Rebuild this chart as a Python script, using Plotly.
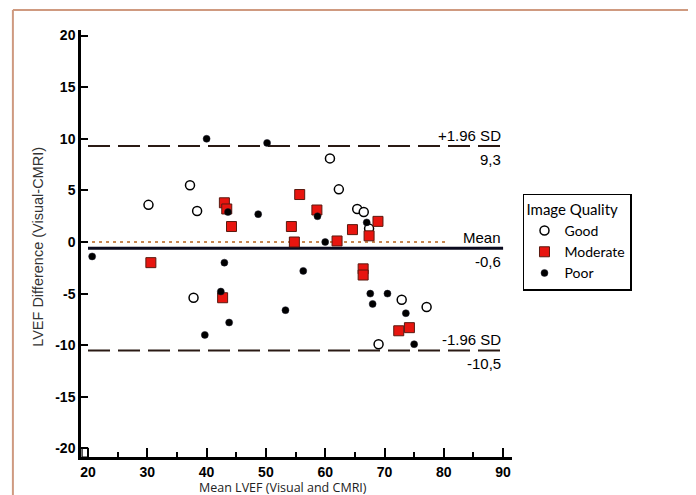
import plotly.graph_objects as go

# ---- data ----
good_x = [30.2, 37.2, 38.4, 37.8, 60.8, 62.3, 65.4, 66.5, 67.4, 72.9, 77.1, 69.0]
good_y = [3.6, 5.5, 3.0, -5.4, 8.1, 5.1, 3.2, 2.9, 1.3, -5.6, -6.3, -9.9]

moderate_x = [43.0, 43.4, 44.2, 30.6, 42.7, 55.7, 58.6, 54.3, 54.8, 62.0, 64.6, 68.9, 67.4, 66.4, 66.4, 72.4, 74.2]
moderate_y = [3.8, 3.2, 1.5, -2.0, -5.4, 4.6, 3.1, 1.5, 0.0, 0.1, 1.2, 2.0, 0.6, -2.6, -3.2, -8.6, -8.3]

poor_x = [20.7, 40.0, 50.2, 43.6, 48.7, 43.0, 42.4, 43.8, 39.7, 58.7, 67.0, 60.0, 56.3, 53.3, 67.6, 70.5, 68.0, 73.6, 75.0]
poor_y = [-1.4, 10.0, 9.6, 2.9, 2.7, -2.0, -4.8, -7.8, -9.0, 2.5, 1.9, 0.0, -2.8, -6.6, -5.0, -5.0, -6.0, -6.9, -9.9]

mean_diff = -0.6
upper_loa = 9.3
lower_loa = -10.5

x_ticks = [20, 30, 40, 50, 60, 70, 80, 90]
y_ticks = [-20, -15, -10, -5, 0, 5, 10, 15, 20]

line_x = [20, 90]
zero_x = [19.5, 80.5]

fig = go.Figure()

# reference lines
fig.add_trace(go.Scatter(x=zero_x, y=[0, 0], mode="lines", showlegend=False, hoverinfo="skip",
                         line=dict(color="#b5601a", width=1.5, dash="3px,4px")))
fig.add_trace(go.Scatter(x=line_x, y=[upper_loa] * 2, mode="lines", showlegend=False, hoverinfo="skip",
                         line=dict(color="#2a1a14", width=2, dash="22px,8px")))
fig.add_trace(go.Scatter(x=line_x, y=[lower_loa] * 2, mode="lines", showlegend=False, hoverinfo="skip",
                         line=dict(color="#2a1a14", width=2, dash="22px,8px")))
fig.add_trace(go.Scatter(x=line_x, y=[mean_diff] * 2, mode="lines", showlegend=False, hoverinfo="skip",
                         line=dict(color="#0a0a1e", width=3)))

# points
fig.add_trace(go.Scatter(x=good_x, y=good_y, mode="markers", name="Good",
                         marker=dict(symbol="circle", size=9, color="white",
                                     line=dict(color="black", width=1.5))))
fig.add_trace(go.Scatter(x=moderate_x, y=moderate_y, mode="markers", name="Moderate",
                         marker=dict(symbol="square", size=10, color="#e8150f",
                                     line=dict(color="#5a1a10", width=1))))
fig.add_trace(go.Scatter(x=poor_x, y=poor_y, mode="markers", name="Poor",
                         marker=dict(symbol="circle", size=7, color="black",
                                     line=dict(color="#1a1a2a", width=0.5))))

ann_font = dict(family="Liberation Sans, Arial", size=15, color="black")
annotations = []
for val, label, num in [(upper_loa, "+1.96 SD", "9,3"), (mean_diff, "Mean", "-0,6"), (lower_loa, "-1.96 SD", "-10,5")]:
    annotations.append(dict(x=89.9, y=val, xref="x", yref="y", text=label, showarrow=False,
                            xanchor="right", yanchor="middle", yshift=11, font=ann_font))
    annotations.append(dict(x=89.9, y=val, xref="x", yref="y", text=num, showarrow=False,
                            xanchor="right", yanchor="middle", yshift=-13, font=ann_font))

# axis titles as annotations
annotations.append(dict(x=-0.1, y=0.492, xref="paper", yref="paper",
                        text="LVEF Difference (Visual-CMRI)", textangle=-90, showarrow=False,
                        xanchor="center", yanchor="middle",
                        font=dict(family="Liberation Sans, Arial", size=14.5, color="#333333")))
annotations.append(dict(x=0.469, y=-0.0703, xref="paper", yref="paper",
                        text="Mean LVEF (Visual and CMRI)", showarrow=False,
                        xanchor="center", yanchor="middle",
                        font=dict(family="Open Sans", size=12.5, color="#222222")))

frame = "#cf9a80"
shapes = [
    dict(type="line", xref="paper", yref="paper", x0=-0.158, x1=1.418, y0=1.0468, y1=1.0468,
         line=dict(color=frame, width=2)),
    dict(type="line", xref="paper", yref="paper", x0=-0.158, x1=-0.158, y0=1.0468, y1=-0.2,
         line=dict(color=frame, width=2)),
    dict(type="line", xref="paper", yref="paper", x0=1.4176, x1=1.4176, y0=1.0468, y1=-0.2,
         line=dict(color=frame, width=2)),
    dict(type="rect", xref="x", yref="y", x0=19.0, x1=20.0, y0=-20.85, y1=-20.0,
         line=dict(color="black", width=1.2)),
]

# page body has an 8px margin, so the figure is offset by 8px in the window
fig.update_layout(
    width=688, height=487,
    margin=dict(l=73, r=184, t=22, b=38),
    paper_bgcolor="white", plot_bgcolor="white",
    annotations=annotations, shapes=shapes,
    legend=dict(
        x=1.0255, y=0.616, xanchor="left", yanchor="top",
        bordercolor="black", borderwidth=1.5, bgcolor="white",
        title=dict(text="Image Quality", font=dict(family="Lato", size=15, color="black")),
        font=dict(family="Lato", size=14, color="black"),
        itemwidth=30, tracegroupgap=0,
    ),
)

fig.update_xaxes(
    range=[18.82, 91.5], tickvals=x_ticks, ticktext=[str(v) for v in x_ticks],
    showgrid=False, zeroline=False, showline=True, linecolor="black", linewidth=2.5,
    ticks="inside", ticklen=9, tickwidth=1.5, tickcolor="black",
    minor=dict(tickvals=[25, 35, 45, 55, 65, 75, 85], ticks="inside", ticklen=5, tickwidth=1.5, tickcolor="black"),
    tickfont=dict(family="Liberation Sans, Arial", size=14, color="black", weight="bold"),
    automargin=False,
)
fig.update_yaxes(
    range=[-20.83, 20.54], tickvals=y_ticks, ticktext=[str(v) for v in y_ticks],
    showgrid=False, zeroline=False, showline=True, linecolor="black", linewidth=2.5,
    ticks="inside", ticklen=7, tickwidth=1.5, tickcolor="black",
    tickfont=dict(family="Liberation Sans, Arial", size=14, color="black", weight="bold"),
    automargin=False,
)

fig.write_html("out.html")
